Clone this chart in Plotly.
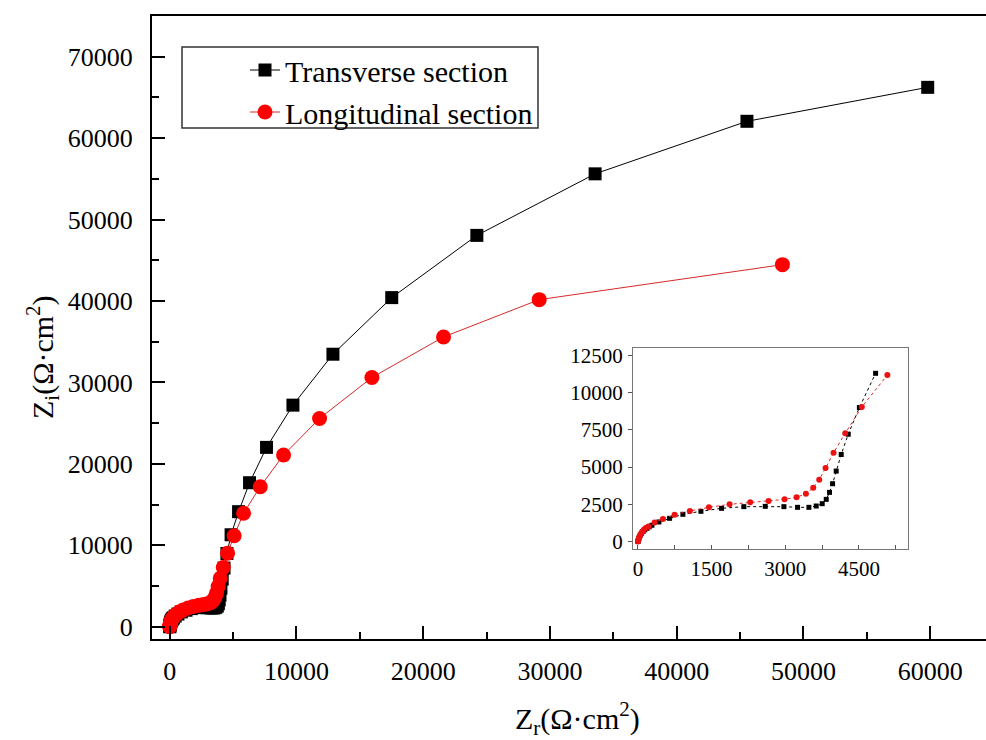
import plotly.graph_objects as go

# ---------------- data ----------------
zr_trans = [0, 5, 15, 30, 50, 75, 105, 140, 185, 230, 285, 428, 645, 916, 1283, 1704,
            2158, 2593, 2973, 3251, 3482, 3631, 3753, 3835, 3902, 3964, 4038, 4140,
            4283, 4510, 4840, 5430, 6296, 7637, 9720, 12875, 17515, 24230, 33560,
            45540, 59800]
zi_trans = [0, 50, 170, 300, 430, 560, 680, 790, 890, 990, 1094, 1317, 1562, 1830, 2031,
            2232, 2344, 2366, 2344, 2299, 2299, 2388, 2544, 2835, 3303, 3884, 4732, 5848,
            7209, 9000, 11300, 14135, 17690, 22030, 27216, 33470, 40420, 48060, 55620,
            62070, 66240]

zr_long = [0, 3, 10, 20, 33, 50, 70, 95, 125, 160, 217, 339, 509, 747, 1059, 1446, 1866,
           2287, 2661, 2986, 3231, 3421, 3570, 3692, 3821, 3984, 4222, 4560, 5080, 5823,
           7140, 8980, 11820, 15950, 21600, 29150, 48340]
zi_long = [0, 30, 110, 220, 340, 460, 580, 700, 810, 910, 1004, 1272, 1518, 1808, 2053,
           2299, 2500, 2634, 2723, 2835, 2969, 3214, 3616, 4152, 4933, 5959, 7276, 9040,
           11180, 13940, 17200, 21090, 25585, 30610, 35590, 40170, 44465]

series_names = ["Transverse section", "Longitudinal section"]
main_xticks = [0, 10000, 20000, 30000, 40000, 50000, 60000]
main_yticks = [0, 10000, 20000, 30000, 40000, 50000, 60000, 70000]
inset_xticks = [0, 1500, 3000, 4500]
inset_yticks = [0, 2500, 5000, 7500, 10000, 12500]
INSET_MAX_ZR = 5200

W, H = 986, 740
SERIF = "Liberation Serif, Times New Roman, serif"

def px_x(p):
    return p / W

def px_y(p):
    return 1 - p / H

def subset(xs, ys, lim):
    pts = [(a, b) for a, b in zip(xs, ys) if a <= lim]
    return [p[0] for p in pts], [p[1] for p in pts]

fig = go.Figure()

# main traces
fig.add_trace(go.Scatter(
    x=zr_trans, y=zi_trans, mode="lines+markers", name=series_names[0],
    line=dict(color="black", width=1),
    marker=dict(symbol="square", size=13, color="black"),
    xaxis="x", yaxis="y"))
fig.add_trace(go.Scatter(
    x=zr_long, y=zi_long, mode="lines+markers", name=series_names[1],
    line=dict(color="#d42a2a", width=1),
    marker=dict(symbol="circle", size=15, color="#ff0000"),
    xaxis="x", yaxis="y"))

# inset traces
ix_t, iy_t = subset(zr_trans, zi_trans, INSET_MAX_ZR)
ix_l, iy_l = subset(zr_long, zi_long, INSET_MAX_ZR)
fig.add_trace(go.Scatter(
    x=ix_t, y=iy_t, mode="lines+markers", showlegend=False,
    line=dict(color="black", width=1, dash="dot"),
    marker=dict(symbol="square", size=5, color="black"),
    xaxis="x2", yaxis="y2"))
fig.add_trace(go.Scatter(
    x=ix_l, y=iy_l, mode="lines+markers", showlegend=False,
    line=dict(color="#d42a2a", width=1, dash="dot"),
    marker=dict(symbol="circle", size=6, color="#ee1111"),
    xaxis="x2", yaxis="y2"))

tickfont_main = dict(family=SERIF, size=26, color="black")
tickfont_inset = dict(family=SERIF, size=21, color="black")

fig.update_layout(
    width=W, height=H, autosize=False,
    margin=dict(l=0, r=0, t=0, b=0),
    paper_bgcolor="white", plot_bgcolor="white",
    font=dict(family=SERIF, color="black"),
    xaxis=dict(
        domain=[px_x(152), 1.0], range=[-1400, 64400], anchor="y",
        tickmode="array", tickvals=main_xticks,
        ticktext=[str(v) for v in main_xticks],
        ticks="inside", ticklen=13, tickwidth=2, tickcolor="black",
        minor=dict(dtick=5000, tick0=0, ticks="inside", ticklen=7, tickwidth=2,
                   tickcolor="black"),
        showline=True, linewidth=2, linecolor="black", mirror=True,
        showgrid=False, zeroline=False, tickfont=tickfont_main,
        ticklabelstandoff=8, automargin=False),
    yaxis=dict(
        domain=[px_y(639), px_y(16)], range=[-1500, 75000], anchor="x",
        tickmode="array", tickvals=main_yticks,
        ticktext=[str(v) for v in main_yticks],
        ticks="inside", ticklen=13, tickwidth=2, tickcolor="black",
        minor=dict(dtick=5000, tick0=0, ticks="inside", ticklen=7, tickwidth=2,
                   tickcolor="black"),
        showline=True, linewidth=2, linecolor="black", mirror=False,
        showgrid=False, zeroline=False, tickfont=tickfont_main,
        ticklabelstandoff=12, automargin=False),
    xaxis2=dict(
        domain=[px_x(633), px_x(908)], range=[-100, 5500], anchor="y2",
        tickmode="array", tickvals=inset_xticks,
        ticktext=[str(v) for v in inset_xticks],
        ticks="inside", ticklen=4, tickwidth=1, tickcolor="#555",
        minor=dict(dtick=750, tick0=0, ticks="inside", ticklen=4, tickwidth=1,
                   tickcolor="#555"),
        showline=True, linewidth=1, linecolor="#777", mirror=True,
        showgrid=False, zeroline=False, tickfont=tickfont_inset,
        ticklabelstandoff=1, automargin=False),
    yaxis2=dict(
        domain=[px_y(549), px_y(348)], range=[-500, 13000], anchor="x2",
        tickmode="array", tickvals=inset_yticks,
        ticktext=[str(v) for v in inset_yticks],
        ticks="outside", ticklen=4, tickwidth=1, tickcolor="#555",
        showline=True, linewidth=1, linecolor="#777", mirror=True,
        showgrid=False, zeroline=False, tickfont=tickfont_inset,
        ticklabelstandoff=1, automargin=False),
    legend=dict(
        x=px_x(245), y=px_y(44), xanchor="left", yanchor="top",
        font=dict(family=SERIF, size=30, color="black"),
        bgcolor="rgba(0,0,0,0)", borderwidth=0, tracegroupgap=0),
    shapes=[dict(type="rect", xref="paper", yref="paper",
                 x0=px_x(182), x1=px_x(538), y0=px_y(128), y1=px_y(47),
                 line=dict(color="#333", width=1.5), fillcolor="rgba(0,0,0,0)")],
    annotations=[
        dict(text="Z<sub>r</sub>(Ω·cm<sup>2</sup>)", xref="paper", yref="paper",
             x=px_x(577), y=px_y(718), showarrow=False,
             font=dict(family=SERIF, size=30, color="black"),
             xanchor="center", yanchor="middle"),
        dict(text="Z<sub>i</sub>(Ω·cm<sup>2</sup>)", xref="paper", yref="paper",
             x=px_x(42), y=px_y(357), showarrow=False, textangle=-90,
             font=dict(family=SERIF, size=30, color="black"),
             xanchor="center", yanchor="middle"),
    ],
)

fig.write_html("out.html")
